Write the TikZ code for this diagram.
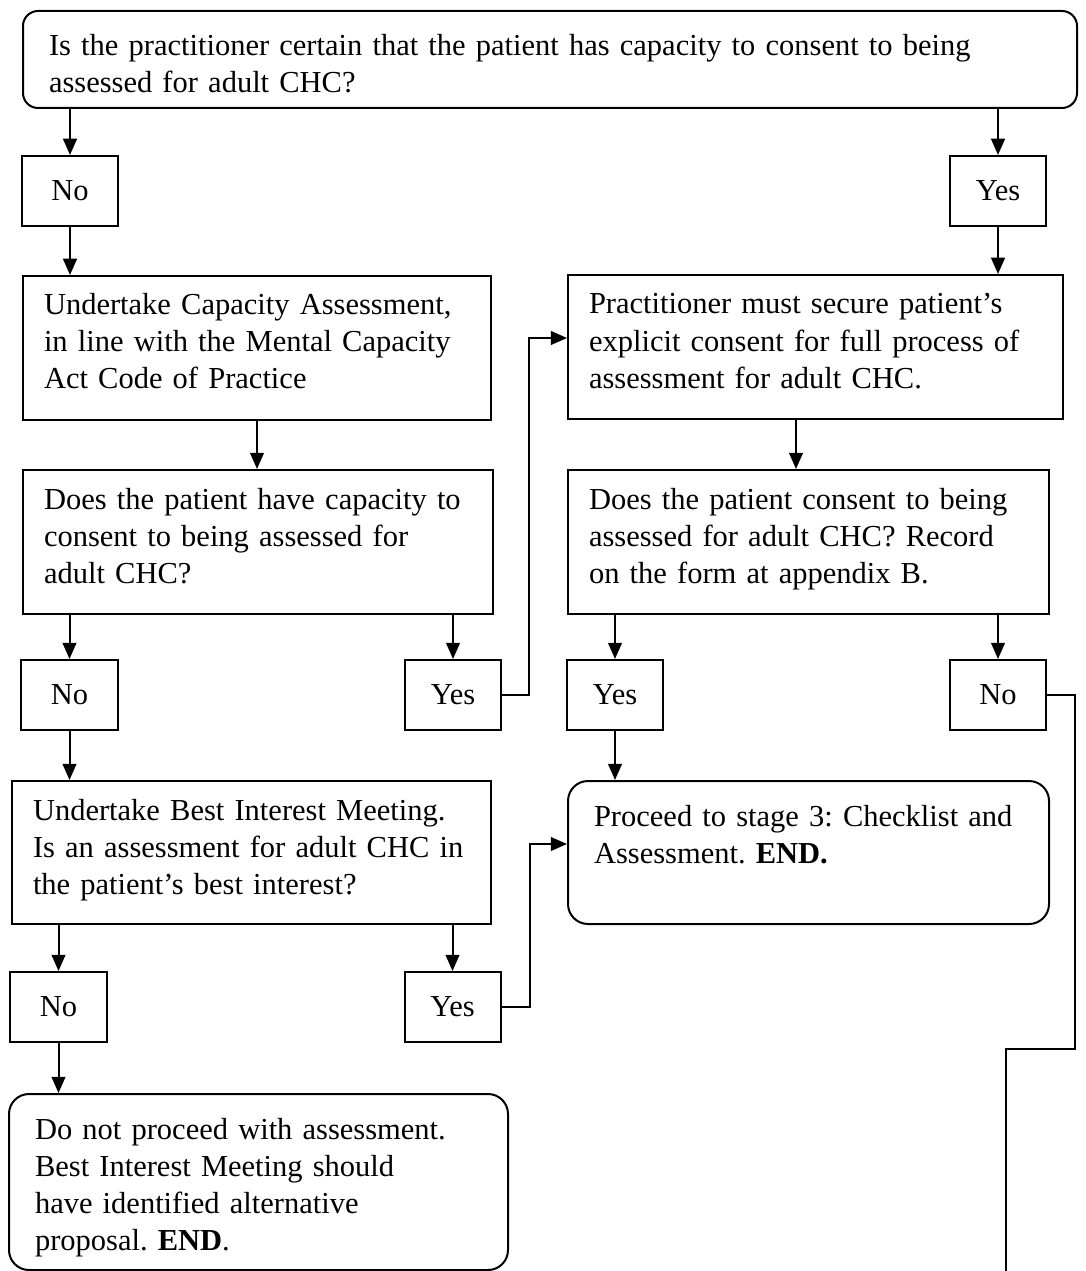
\documentclass[tikz,border=0pt]{standalone}
\usepackage{fontspec}
\setmainfont{Liberation Serif}
\usetikzlibrary{arrows.meta}
\frenchspacing

\begin{document}
\begin{tikzpicture}[
            x=0.4pt,y=-0.4pt,
            every node/.style={font=\fontsize{12.2pt}{14.8pt}\selectfont},
            block/.style={draw,thick,rectangle,anchor=north west,align=left,inner xsep=8.4pt,inner ysep=0pt,text height=15.6pt},
            endblock/.style={block,rounded corners=8pt,inner xsep=10.4pt,text height=18pt},
            answer/.style={draw,thick,rectangle,minimum width=38.4pt,minimum height=28pt,inner sep=0pt},
            flow/.style={draw,->,thick,>={Triangle[length=6.5pt,width=5.5pt]}}
          ]
          \useasboundingbox (0,0) rectangle (1085,1271);

          %question
          \node[endblock,rounded corners=6pt,text width=400.8pt,text depth=20.8pt] (ask) at (22,10) {Is the practitioner certain that the patient has capacity to consent to being\\assessed for adult CHC?};
          \node[answer] (no1) at (70,191) {No};
          \node[answer] (yes1) at (998,191) {Yes};

          %capacity branch
          \node[block,text width=170.4pt,text depth=42pt] (assess) at (22,275) {Undertake Capacity Assessment,\\in line with the Mental Capacity\\Act Code of Practice};
          \node[block,text width=171.2pt,text depth=42pt] (capable) at (22,469) {Does the patient have capacity to\\consent to being assessed for\\adult CHC?};
          \node[answer] (no2) at (69.5,695) {No};
          \node[answer] (yes2) at (453,695) {Yes};
          \node[block,text width=174.8pt,text depth=41.6pt] (interest) at (11,780) {Undertake Best Interest Meeting.\\Is an assessment for adult CHC in\\the patient's best interest?};
          \node[answer] (no4) at (58.5,1007) {No};
          \node[answer] (yes4) at (452.5,1007) {Yes};
          \node[endblock,text width=178.8pt,text depth=52.4pt] (stop) at (8,1093) {Do not proceed with assessment.\\Best Interest Meeting should\\have identified alternative\\proposal. \textbf{END}.};

          %consent branch
          \node[block,text width=181.2pt,text depth=42pt] (secure) at (567,274) {Practitioner must secure patient's\\explicit consent for full process of\\assessment for adult CHC.};
          \node[block,text width=175.6pt,text depth=42pt] (consent) at (567,469) {Does the patient consent to being\\assessed for adult CHC? Record\\on the form at appendix B.};
          \node[answer] (yes3) at (615,695) {Yes};
          \node[answer] (no3) at (998,695) {No};
          \node[endblock,text width=171.6pt,text depth=39.2pt] (proceed) at (567,780) {Proceed to stage 3: Checklist and\\Assessment. \textbf{END.}};

          %links
          \path[flow] (ask.south -| no1) -- (no1);
          \path[flow] (ask.south -| yes1) -- (yes1);
          \path[flow] (no1) -- (no1 |- assess.north);
          \path[flow] (yes1) -- (yes1 |- secure.north);
          \path[flow] (assess.south) -- (assess.south |- capable.north);
          \path[flow] ([xshift=-7.8pt]secure.south) -- ([xshift=-7.8pt]secure.south |- consent.north);
          \path[flow] (capable.south -| no2) -- (no2);
          \path[flow] (capable.south -| yes2) -- (yes2);
          \path[flow] (yes2.east) -- ++(27,0) |- ([yshift=3.6pt]secure.west);
          \path[flow] (consent.south -| yes3) -- (yes3);
          \path[flow] (consent.south -| no3) -- (no3);
          \path[flow] (no2) -- (no2 |- interest.north);
          \path[flow] (yes3) -- (yes3 |- proceed.north);
          \path[flow] (interest.south -| no4) -- (no4);
          \path[flow] (interest.south -| yes4) -- (yes4);
          \path[flow] (yes4.east) -- ++(28,0) |- ([yshift=3.4pt]proceed.west);
          \path[flow] (no4) -- (no4 |- stop.north);

          %no consent runs off the page
          \coordinate (kink) at (1075,1049);
          \coordinate (tail) at (1006,1271);
          \path[flow,-] (no3.east) -| (kink) -| (tail);

      \end{tikzpicture}
\end{document}
